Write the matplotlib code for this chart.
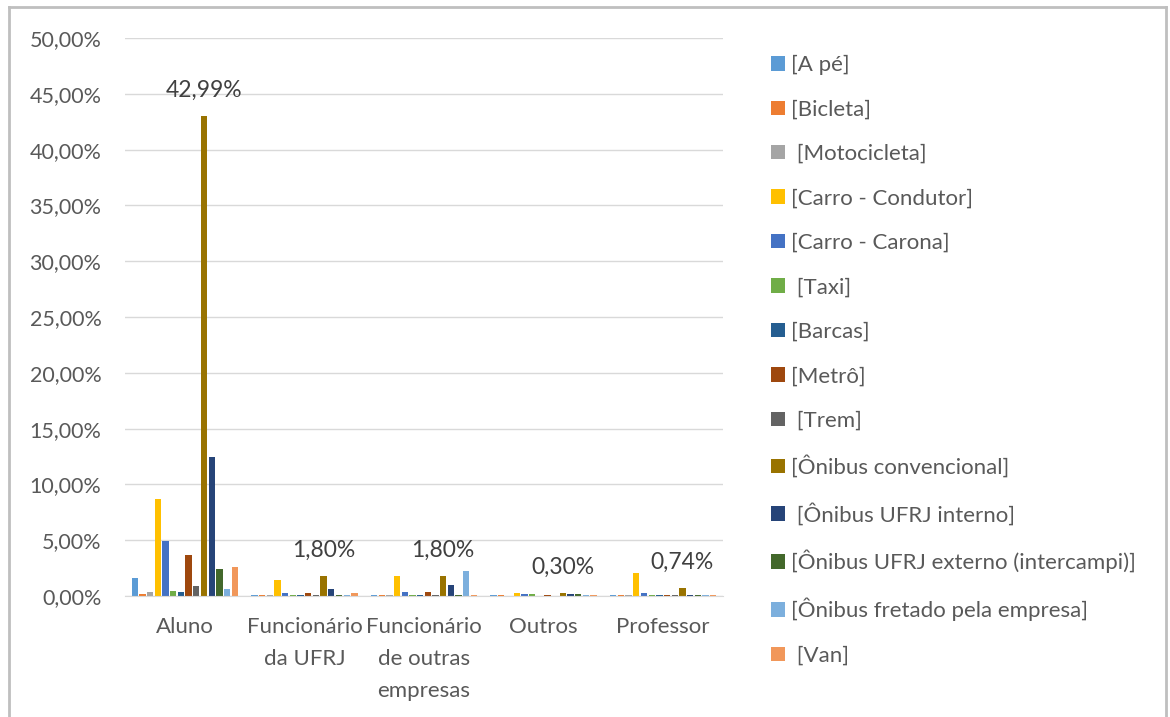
import matplotlib
matplotlib.use("Agg")
from matplotlib import pyplot as plt
from matplotlib.lines import Line2D
from matplotlib.ticker import FuncFormatter
import numpy as np

plt.rcParams['font.family'] = ['Lato', 'DejaVu Sans']

categories = ['Aluno', 'Funcionário\nda UFRJ', 'Funcionário\nde outras\nempresas', 'Outros', 'Professor']

series_names = [
    '[A pé]', '[Bicleta]', ' [Motocicleta]', '[Carro - Condutor]', '[Carro - Carona]',
    ' [Taxi]', '[Barcas]', '[Metrô]', ' [Trem]', '[Ônibus convencional]',
    ' [Ônibus UFRJ interno]', '[Ônibus UFRJ externo (intercampi)]',
    '[Ônibus fretado pela empresa]', ' [Van]',
]

colors = ['#5B9BD5', '#ED7D31', '#A5A5A5', '#FFC000', '#4472C4', '#70AD47', '#255E91',
          '#9E480E', '#636363', '#997300', '#264478', '#43682B', '#7CAFDD', '#F1975A']

# percent values, one row per series, one column per category
values = np.array([
    [1.60, 0.12, 0.12, 0.12, 0.12],   # A pé
    [0.15, 0.12, 0.12, 0.12, 0.12],   # Bicicleta
    [0.40, 0.12, 0.12, 0.00, 0.12],   # Motocicleta
    [8.70, 1.40, 1.80, 0.25, 2.10],   # Carro - Condutor
    [4.90, 0.25, 0.35, 0.15, 0.25],   # Carro - Carona
    [0.45, 0.12, 0.12, 0.15, 0.12],   # Taxi
    [0.35, 0.12, 0.12, 0.00, 0.12],   # Barcas
    [3.70, 0.25, 0.35, 0.12, 0.12],   # Metrô
    [0.90, 0.12, 0.12, 0.00, 0.12],   # Trem
    [42.99, 1.80, 1.80, 0.30, 0.74],  # Ônibus convencional
    [12.50, 0.60, 0.95, 0.15, 0.12],  # Ônibus UFRJ interno
    [2.40, 0.12, 0.12, 0.15, 0.12],   # Ônibus UFRJ externo
    [0.60, 0.12, 2.20, 0.12, 0.12],   # Ônibus fretado
    [2.60, 0.25, 0.12, 0.12, 0.12],   # Van
])
label_series = 9
data_labels = ['42,99%', '1,80%', '1,80%', '0,30%', '0,74%']

fig = plt.figure(figsize=(11.7, 7.17), dpi=100)
ax = fig.add_axes([125 / 1170, 1 - 596 / 717, (723 - 125) / 1170, (596 - 38) / 717])

n = len(series_names)
x = np.arange(len(categories))
slot = 0.9 / n
for i, (name, col) in enumerate(zip(series_names, colors)):
    pos = x - 0.45 + slot * (i + 0.5)
    bars = ax.bar(pos, values[i], width=slot * 0.82, color=col, linewidth=0, label=name)
    if i == label_series:
        for b, txt in zip(bars, data_labels):
            ax.annotate(txt, (b.get_x() + b.get_width() / 2, b.get_height()),
                        xytext=(0, 11), textcoords='offset points', ha='center', va='bottom',
                        fontsize=16.5, color='#404040')

ax.set_xlim(-0.5, len(categories) - 0.5)
ax.set_ylim(0, 50)
ax.set_yticks(np.arange(0, 51, 5))
ax.yaxis.set_major_formatter(FuncFormatter(lambda v, p: f'{v:.2f}%'.replace('.', ',')))
ax.set_xticks(x)
ax.set_xticklabels(categories, linespacing=1.75)
ax.tick_params(axis='y', length=0, pad=17, labelsize=15.5, labelcolor='#595959')
ax.tick_params(axis='x', length=0, pad=15, labelsize=16, labelcolor='#595959')
ax.grid(axis='y', color='#D9D9D9', linewidth=1)
ax.set_axisbelow(True)
for s in ['top', 'right', 'left']:
    ax.spines[s].set_visible(False)
ax.spines['bottom'].set_color('#D9D9D9')

ax.legend(loc='upper left', bbox_to_anchor=(771 / 1170, 1 - 55 / 717), bbox_transform=fig.transFigure,
          frameon=False, fontsize=16, labelcolor='#595959', handlelength=0.62, handleheight=0.62,
          handletextpad=0.3, labelspacing=1.1, borderpad=0, borderaxespad=0)

# outer chart frame (open at the bottom, like the cropped screenshot)
fr = dict(color='#BFBFBF', linewidth=2, transform=fig.transFigure)
fig.add_artist(Line2D([9 / 1170, 9 / 1170], [0, 1 - 7 / 717], **fr))
fig.add_artist(Line2D([9 / 1170, 1166 / 1170], [1 - 7 / 717, 1 - 7 / 717], **fr))
fig.add_artist(Line2D([1166 / 1170, 1166 / 1170], [0, 1 - 7 / 717], **fr))

fig.savefig('out.png', dpi=100)
